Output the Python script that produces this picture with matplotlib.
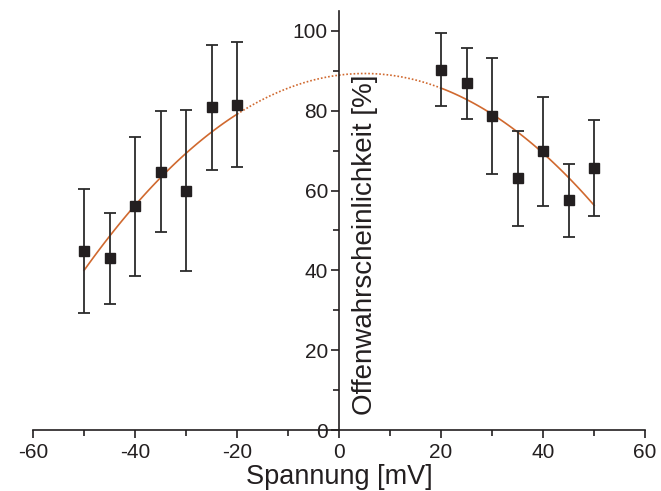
import numpy as np
import matplotlib.pyplot as plt
from matplotlib.ticker import MultipleLocator

plt.rcParams['font.family'] = ['Liberation Sans', 'DejaVu Sans']
plt.rcParams['axes.unicode_minus'] = False

# Messwerte
spannung = [-50, -45, -40, -35, -30, -25, -20, 20, 25, 30, 35, 40, 45, 50]
p_offen = [44.8, 43.0, 56.0, 64.7, 60.0, 80.8, 81.5,
           90.3, 86.8, 78.7, 63.1, 69.8, 57.5, 65.6]
fehler = [15.5, 11.4, 17.3, 15.2, 20.2, 15.7, 15.7,
          9.1, 9.0, 14.5, 11.9, 13.6, 9.2, 12.0]

# Parameter der Fitkurve (Parabel)
p_max = 89.3
u_max = 5.0
kruemmung = 0.0163

def fit(u):
    return p_max - kruemmung * (u - u_max) ** 2

fig = plt.figure(figsize=(6.61, 4.91), dpi=100)
ax = fig.add_axes([0.05, 0.124, 0.926, 0.854])

farbe = '#d0692f'
u1 = np.linspace(-50, -20, 100)
u2 = np.linspace(-20, 20, 100)
u3 = np.linspace(20, 50, 100)
ax.plot(u1, fit(u1), color=farbe, lw=1.2)
ax.plot(u2, fit(u2), color=farbe, lw=1.2, ls=(0, (1, 1.2)))
ax.plot(u3, fit(u3), color=farbe, lw=1.2)

ax.errorbar(spannung, p_offen, yerr=fehler, fmt='s', color='#231f20',
            ecolor='#2b2b2b', markersize=7, elinewidth=1.3, capsize=4,
            capthick=1.3, zorder=3)

ax.set_xlim(-60, 60)
ax.set_ylim(0, 105)
ax.spines['left'].set_position(('data', 0))
ax.spines['right'].set_visible(False)
ax.spines['top'].set_visible(False)
for s in ('left', 'bottom'):
    ax.spines[s].set_linewidth(1.2)
    ax.spines[s].set_color('#231f20')

ax.xaxis.set_major_locator(MultipleLocator(20))
ax.xaxis.set_minor_locator(MultipleLocator(10))
ax.yaxis.set_major_locator(MultipleLocator(20))
ax.yaxis.set_minor_locator(MultipleLocator(10))
ax.tick_params(which='both', direction='out', width=1.2, color='#231f20',
               labelsize=15, labelcolor='#231f20')
ax.tick_params(which='major', length=6)
ax.tick_params(which='minor', length=4)
ax.tick_params(axis='y', pad=2)
ax.tick_params(axis='x', pad=3)

ax.set_xlabel('Spannung [mV]', fontsize=19.5, color='#231f20', labelpad=2)
ax.text(5.1, 46.4, 'Offenwahrscheinlichkeit [%]', rotation=90, fontsize=20,
        color='#231f20', ha='center', va='center')

fig.savefig('out.png', dpi=100)
